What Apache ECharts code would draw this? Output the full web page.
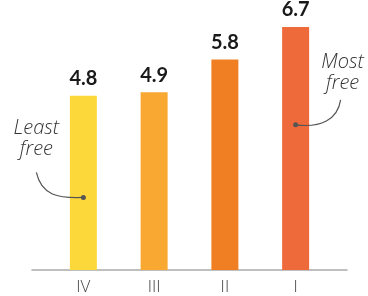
<!DOCTYPE html>
<html>
<head>
<meta charset="utf-8">
<script src="https://cdn.jsdelivr.net/npm/echarts@6/dist/echarts.min.js"></script>
<style>
  html, body { margin: 0; padding: 0; background: #fff; }
  #chart { width: 368px; height: 296px; }
</style>
</head>
<body>
<div id="chart"></div>
<script>
const categories = ['IV', 'III', 'II', 'I']
const values = [4.8, 4.9, 5.8, 6.7]
const barColors = ['#FCD83A', '#F9A832', '#F07F23', '#EE6A3B']

const chart = echarts.init(document.getElementById('chart'))

chart.setOption({
  animation: false,
  grid: [
    { left: 48, right: 37, top: 16, bottom: 26 },
    { left: 32, right: 21, top: 16, bottom: 26 } // just for the long base line
  ],
  xAxis: [{
    type: 'category',
    gridIndex: 0,
    data: categories,
    axisLine: { show: false },
    axisTick: { show: false },
    axisLabel: {
      margin: 9,
      color: '#444',
      fontFamily: 'Open Sans',
      fontSize: 17,
      fontWeight: 300
    }
  }, {
    type: 'category',
    gridIndex: 1,
    data: [''],
    axisLine: { show: true, lineStyle: { color: '#aaa', width: 1.5 } },
    axisTick: { show: false },
    axisLabel: { show: false }
  }],
  yAxis: [{
    type: 'value',
    gridIndex: 0,
    min: 0,
    max: 7,
    show: false
  }, {
    type: 'value',
    gridIndex: 1,
    min: 0,
    max: 7,
    show: false
  }],
  series: [{
    type: 'bar',
    xAxisIndex: 0,
    yAxisIndex: 0,
    barWidth: 27,
    data: values.map((v, i) => ({ value: v, itemStyle: { color: barColors[i] } })),
    label: {
      show: true,
      position: 'top',
      distance: 7,
      color: '#1a1a1a',
      fontFamily: 'Lato',
      fontWeight: 'bold',
      fontSize: 20
    }
  }]
})

// annotations, anchored to bars IV and I
const least = chart.convertToPixel({ xAxisIndex: 0, yAxisIndex: 0 }, ['IV', 2])
const most = chart.convertToPixel({ xAxisIndex: 0, yAxisIndex: 0 }, ['I', 4])
const noteFont = 'italic 300 20px "Open Sans"'
const ink = '#555'

chart.setOption({
  graphic: [
    {
      type: 'text', z: 100,
      x: least[0] - 47, y: least[1] - 59,
      style: { text: 'Least\nfree', font: noteFont, fill: '#333', align: 'center', verticalAlign: 'middle', lineHeight: 21 }
    },
    {
      type: 'bezierCurve', z: 100,
      shape: {
        x1: least[0] - 47, y1: least[1] - 25,
        cpx1: least[0] - 42, cpy1: least[1] - 2,
        cpx2: least[0] - 25, cpy2: least[1] + 1,
        x2: least[0], y2: least[1]
      },
      style: { stroke: ink, lineWidth: 1.2, fill: null }
    },
    { type: 'circle', z: 100, shape: { cx: least[0], cy: least[1], r: 2.5 }, style: { fill: ink } },
    {
      type: 'text', z: 100,
      x: most[0] + 47, y: most[1] - 52,
      style: { text: 'Most\nfree', font: noteFont, fill: '#333', align: 'center', verticalAlign: 'middle', lineHeight: 21 }
    },
    {
      type: 'bezierCurve', z: 100,
      shape: {
        x1: most[0], y1: most[1],
        cpx1: most[0] + 25, cpy1: most[1] + 3,
        cpx2: most[0] + 42, cpy2: most[1] - 5,
        x2: most[0] + 45, y2: most[1] - 25
      },
      style: { stroke: ink, lineWidth: 1.2, fill: null }
    },
    { type: 'circle', z: 100, shape: { cx: most[0], cy: most[1], r: 2.5 }, style: { fill: ink } }
  ]
})
</script>
</body>
</html>
